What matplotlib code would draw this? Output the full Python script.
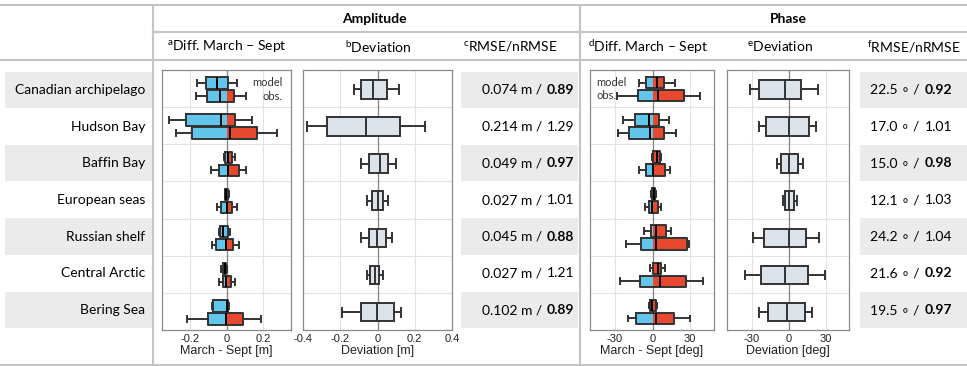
import numpy as np
import matplotlib
matplotlib.use("Agg")
import matplotlib.pyplot as plt
from matplotlib.patches import Rectangle

# ---------------- data ----------------
regions = ["Canadian archipelago", "Hudson Bay", "Baffin Bay", "European seas",
           "Russian shelf", "Central Arctic", "Bering Sea"]

# box statistics: [whisker low, q1, median, q3, whisker high]
amp_diff_model = [[-0.164, -0.115, -0.051, 0.005, 0.058],
                  [-0.313, -0.224, -0.033, 0.047, 0.136],
                  [-0.015, -0.007, 0.009, 0.029, 0.045],
                  [-0.012, -0.008, -0.002, 0.006, 0.012],
                  [-0.044, -0.035, -0.018, 0.005, 0.015],
                  [-0.029, -0.022, -0.011, -0.004, 0.000],
                  [-0.078, -0.076, 0.003, 0.009, 0.012]]
amp_diff_obs = [[-0.167, -0.107, -0.036, 0.040, 0.104],
                [-0.276, -0.189, 0.015, 0.162, 0.276],
                [-0.087, -0.040, 0.004, 0.069, 0.105],
                [-0.055, -0.029, 0.000, 0.029, 0.058],
                [-0.080, -0.058, -0.004, 0.033, 0.069],
                [-0.044, -0.022, -0.004, 0.025, 0.044],
                [-0.218, -0.105, -0.004, 0.087, 0.187]]
amp_dev = [[-0.125, -0.086, -0.025, 0.050, 0.113],
           [-0.377, -0.272, -0.064, 0.122, 0.254],
           [-0.089, -0.046, 0.011, 0.054, 0.097],
           [-0.055, -0.030, 0.000, 0.027, 0.057],
           [-0.086, -0.046, -0.004, 0.045, 0.080],
           [-0.057, -0.039, -0.014, 0.007, 0.027],
           [-0.193, -0.091, -0.002, 0.091, 0.127]]
phase_diff_model = [[-10.9, -5.6, 3.7, 9.1, 18.1],
                    [-23.7, -14.1, -3.2, 5.3, 13.3],
                    [-0.8, 0.3, 3.2, 6.1, 6.9],
                    [-1.0, -0.5, 1.0, 2.0, 3.0],
                    [-7.2, -1.6, 2.9, 10.7, 14.9],
                    [-2.1, 0.3, 4.3, 6.7, 10.1],
                    [-2.7, -1.9, -0.8, 2.9, 3.2]]
phase_diff_obs = [[-28.5, -11.7, 4.3, 25.3, 38.1],
                  [-27.7, -19.2, -1.9, 9.3, 18.7],
                  [-11.2, -5.1, 0.5, 9.9, 13.6],
                  [-5.9, -2.9, -0.3, 4.5, 6.9],
                  [-21.3, -9.1, 2.7, 27.5, 29.3],
                  [-25.9, -10.4, 6.1, 26.9, 40.0],
                  [-19.7, -13.3, 2.9, 17.3, 30.1]]
phase_dev = [[-31.1, -24.3, -3.0, 9.7, 23.5],
             [-23.8, -18.4, 0.0, 16.5, 22.2],
             [-9.2, -5.9, 0.0, 7.6, 11.9],
             [-4.3, -3.0, 0.3, 4.1, 6.8],
             [-29.2, -20.3, 0.0, 14.1, 24.9],
             [-35.1, -22.7, -3.0, 15.4, 29.7],
             [-24.1, -17.0, -1.1, 13.5, 19.2]]

amp_rmse = [0.074, 0.214, 0.049, 0.027, 0.045, 0.027, 0.102]
amp_nrmse = [0.89, 1.29, 0.97, 1.01, 0.88, 1.21, 0.89]
phase_rmse = [22.5, 17.0, 15.0, 12.1, 24.2, 21.6, 19.5]
phase_nrmse = [0.92, 1.01, 0.98, 1.03, 1.04, 0.92, 0.97]

amp_diff_ticks = [-0.2, 0, 0.2]
amp_dev_ticks = [-0.4, -0.2, 0, 0.2, 0.4]
phase_ticks = [-30, 0, 30]

# ---------------- style ----------------
plt.rcParams['axes.unicode_minus'] = False
plt.rcParams['mathtext.fontset'] = 'custom'
plt.rcParams['mathtext.rm'] = 'Lato'
TXT = ['Lato', 'DejaVu Sans']
AXF = 'Liberation Sans'
BLUE = '#62c6ec'
RED = '#e8492e'
DEVF = '#dce3ea'
EDGE = '#333333'
LINE = '#c4c4c4'
BAND = '#ebebeb'

W, H = 967, 366
fig = plt.figure(figsize=(W / 100, H / 100), dpi=100)
bg = fig.add_axes([0, 0, 1, 1])
bg.set_xlim(0, W)
bg.set_ylim(H, 0)
bg.axis('off')

n = len(regions)
row_top0, row_h = 71.7, 36.67

# bands
for i in range(0, n, 2):
    y0 = row_top0 + i * row_h
    for (x0, x1) in [(5, 152), (461, 578), (860, W)]:
        bg.add_patch(Rectangle((x0, y0), x1 - x0, row_h - 0.3, color=BAND, lw=0, zorder=0))

# table lines
lw = 1.5
bg.plot([0, W], [4.5, 4.5], color=LINE, lw=lw)
bg.plot([153, W], [32, 32], color=LINE, lw=lw)
bg.plot([0, W], [60, 60], color=LINE, lw=lw)
bg.plot([0, W], [364.5, 364.5], color=LINE, lw=lw)
bg.plot([153, 153], [4.5, 364.5], color=LINE, lw=lw)
bg.plot([580, 580], [4.5, 364.5], color=LINE, lw=lw)

# headers
bg.text(374, 19, "Amplitude", ha='center', va='center', fontsize=10, fontweight='bold', family=TXT)
bg.text(788, 19, "Phase", ha='center', va='center', fontsize=10, fontweight='bold', family=TXT)
subs = [(227, 'a', 'Diff. March – Sept'), (378, 'b', 'Deviation'), (510, 'c', 'RMSE/nRMSE'),
        (648, 'd', 'Diff. March – Sept'), (780, 'e', 'Deviation'), (914, 'f', 'RMSE/nRMSE')]
for x, letter, s in subs:
    bg.text(x, 47, r"$^{\mathrm{%s}}$" % letter + s, ha='center', va='center', fontsize=10, family=TXT)

# region names and RMSE texts
for i, name in enumerate(regions):
    yc = 90 + i * row_h
    bg.text(145, yc, name, ha='right', va='center', fontsize=10, family=TXT)
    bg.text(542, yc, f"{amp_rmse[i]:.3f} m /", ha='right', va='center', fontsize=10, family=TXT)
    bg.text(547, yc, f"{amp_nrmse[i]:.2f}", ha='left', va='center', fontsize=10, family=TXT,
            fontweight='bold' if amp_nrmse[i] < 1 else 'normal')
    bg.text(919, yc, f"{phase_rmse[i]:.1f} \u2218 /", ha='right', va='center', fontsize=10, family=TXT)
    bg.text(925, yc, f"{phase_nrmse[i]:.2f}", ha='left', va='center', fontsize=10, family=TXT,
            fontweight='bold' if phase_nrmse[i] < 1 else 'normal')


def add_ax(x0, y0, x1, y1):
    return fig.add_axes([x0 / W, 1 - y1 / H, (x1 - x0) / W, (y1 - y0) / H])


def setup(ax, xlim, ticks, xlabel):
    ax.set_xlim(xlim)
    ax.set_ylim(n, 0)
    ax.set_xticks(ticks)
    ax.set_xticklabels([f"{t:g}" for t in ticks], family=AXF)
    ax.set_yticks(np.arange(1, n))
    ax.set_yticklabels([])
    ax.grid(True, color='#e2e2e2', lw=0.8)
    ax.set_axisbelow(True)
    ax.axvline(0, color='#858585', lw=0.9, zorder=1.5)
    ax.tick_params(axis='x', length=0, labelsize=8, pad=3, labelcolor='#222222')
    ax.tick_params(axis='y', length=0)
    for s in ax.spines.values():
        s.set_color('#8a8a8a')
        s.set_linewidth(0.9)
    ax.set_xlabel(xlabel, fontsize=9, labelpad=0.5, family=AXF, color='#222222')


def stats_dicts(arr):
    return [dict(whislo=r[0], q1=r[1], med=r[2], q3=r[3], whishi=r[4], fliers=[]) for r in arr]


def split_boxes(ax, arr, offset, h, capw):
    a = np.array(arr)
    pos = np.arange(n) + offset
    q1, q3 = a[:, 1], a[:, 3]
    bl = np.clip(np.minimum(q3, 0) - q1, 0, None)
    rl = np.maximum(q1, 0)
    rw = np.clip(q3 - rl, 0, None)
    ax.barh(pos, bl, left=q1, height=h, color=BLUE, lw=0, zorder=2)
    ax.barh(pos, rw, left=rl, height=h, color=RED, lw=0, zorder=2)
    ax.bxp(stats_dicts(arr), positions=pos, widths=h, orientation='horizontal',
           showfliers=False, manage_ticks=False, capwidths=capw, zorder=3,
           boxprops=dict(color=EDGE, lw=1.4), whiskerprops=dict(color=EDGE, lw=1.4),
           capprops=dict(color=EDGE, lw=1.4), medianprops=dict(color='black', lw=1.4))


def dev_boxes(ax, arr):
    pos = np.arange(n) + 0.52
    ax.bxp(stats_dicts(arr), positions=pos, widths=0.5, orientation='horizontal',
           showfliers=False, manage_ticks=False, capwidths=0.24, patch_artist=True, zorder=3,
           boxprops=dict(facecolor=DEVF, edgecolor=EDGE, lw=1.4),
           whiskerprops=dict(color=EDGE, lw=1.4), capprops=dict(color=EDGE, lw=1.4),
           medianprops=dict(color=EDGE, lw=1.4))


# panel a
axa = add_ax(162, 70, 291, 330)
setup(axa, (-0.353, 0.35), amp_diff_ticks, "March - Sept [m]")
split_boxes(axa, amp_diff_model, 0.35, 0.31, 0.16)
split_boxes(axa, amp_diff_obs, 0.70, 0.31, 0.16)
axa.text(0.305, 0.35, "model", ha='right', va='center', fontsize=8, family=TXT, color='#333333')
axa.text(0.305, 0.70, "obs.", ha='right', va='center', fontsize=8, family=TXT, color='#333333')

# panel b
axb = add_ax(303, 70, 452, 330)
setup(axb, (-0.4, 0.4), amp_dev_ticks, "Deviation [m]")
dev_boxes(axb, amp_dev)

# panel d
axd = add_ax(590, 70, 714, 330)
setup(axd, (-50, 49), phase_ticks, "March - Sept [deg]")
split_boxes(axd, phase_diff_model, 0.34, 0.31, 0.16)
split_boxes(axd, phase_diff_obs, 0.69, 0.31, 0.16)
axd.text(-45, 0.34, "model", ha='left', va='center', fontsize=8, family=TXT, color='#333333')
axd.text(-45, 0.69, "obs.", ha='left', va='center', fontsize=8, family=TXT, color='#333333')

# panel e
axe = add_ax(727, 70, 849, 330)
setup(axe, (-50, 49), phase_ticks, "Deviation [deg]")
dev_boxes(axe, phase_dev)

fig.savefig("out.png", dpi=100)
